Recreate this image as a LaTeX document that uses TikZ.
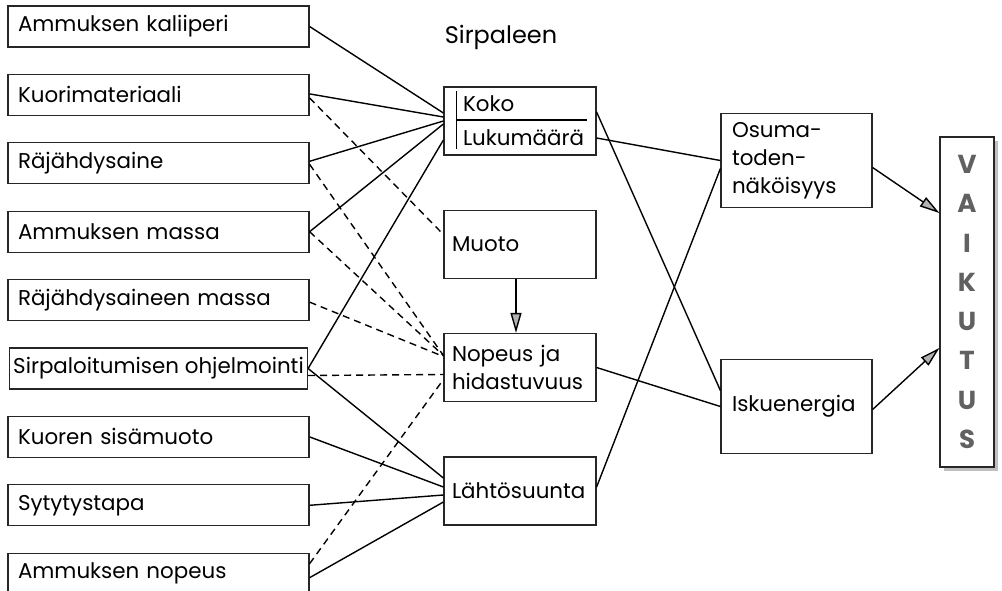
\documentclass[tikz,border=0pt]{standalone}
\usepackage{fontspec}
\setmainfont{Poppins}
\usetikzlibrary{arrows.meta,shadows}

\tikzset{
	box/.style={draw=black!85, line width=1.2pt, align=left, inner ysep=0pt,
		font=\fontsize{21.4}{28}\selectfont},
	leftbox/.style={box, text width=281pt, inner xsep=10pt, minimum height=41pt},
	widebox/.style={box, minimum width=298pt, inner xsep=1pt, minimum height=41pt},
	midbox/.style={box, text width=136pt, inner xsep=8pt, minimum height=68pt},
	rightbox/.style={box, text width=129pt, inner xsep=11pt, minimum height=94pt},
	link/.style={line width=1.4pt},
	dashlink/.style={link, dash pattern=on 7pt off 5pt},
	tip/.style={link, -{Triangle[length=20pt,width=11pt,fill=gray!60]}}
}

\begin{document}
\begin{tikzpicture}[x=1pt,y=-1pt]
	\useasboundingbox (0,0) rectangle (1002,590);
	% tekijat vasemmalla
	\foreach \i/\nm/\txt/\st in {0/kal/Ammuksen kaliiperi/leftbox, 1/kuori/Kuorimateriaali/leftbox,
		2/raj/Räjähdysaine/leftbox, 3/massa/Ammuksen massa/leftbox,
		4/rmassa/Räjähdysaineen massa/leftbox, 5/ohj/Sirpaloitumisen ohjelmointi/widebox,
		6/sisa/Kuoren sisämuoto/leftbox, 7/syt/Sytytystapa/leftbox, 8/nop/Ammuksen nopeus/leftbox}
	{
		\node[\st] (\nm) at (158.5,{26.5+68.4*\i}) {\txt};
	}
	% sirpaleen ominaisuudet
	\node[font=\fontsize{24}{28}\selectfont] (sirp) at (501,37) {Sirpaleen};
	\node[box, text width=114pt, inner xsep=19pt, minimum height=68pt,
		font=\fontsize{21.4}{34}\selectfont] (koko) at (520,121) {Koko\\Lukumäärä};
	\draw[line width=1.2pt] ([xshift=13pt,yshift=-5pt]koko.north west) -- ([xshift=13pt,yshift=7pt]koko.south west);
	\draw[line width=1.2pt] ([xshift=13pt,yshift=1pt]koko.west) -- ([xshift=-10pt,yshift=1pt]koko.east);
	\node[midbox] (muoto) at (520,244.5) {Muoto};
	\node[midbox] (nopeus) at (520,367.5) {Nopeus ja\\hidastuvuus};
	\node[midbox] (lahto) at (520,491) {Lähtösuunta};
	% seuraukset
	\node[rightbox] (osuma) at (796.5,160.5) {Osuma-\\toden-\\näköisyys};
	\node[rightbox] (isku) at (796.5,406.5) {Iskuenergia};
	\node[draw=black!85, line width=1.2pt, fill=white, minimum width=54pt, minimum height=330pt,
		align=center, inner sep=0pt, text=black!62, font=\fontsize{26}{39.3}\selectfont\bfseries,
		drop shadow={shadow xshift=4pt, shadow yshift=-4pt, fill=gray!50, opacity=1}]
		(vaik) at (967,302) {V\\A\\I\\K\\U\\T\\U\\S};

	% yhteydet kokoon ja lukumaaraan
	\draw[link] (kal.east) -- ([yshift=8pt]koko.west);
	\draw[link] ([yshift=1pt]kuori.east) -- ([yshift=4pt]koko.west);
	\draw[link] ([yshift=2pt]raj.east) -- (koko.west);
	\draw[link] (massa.east) -- ([yshift=-3pt]koko.west);
	\draw[link] (ohj.east) -- ([yshift=-19pt]koko.west);
	% yhteydet lahtosuuntaan
	\draw[link] (ohj.east) -- ([yshift=13pt]lahto.west);
	\draw[link] (sisa.east) -- ([yshift=4pt]lahto.west);
	\draw[link] (syt.east) -- ([yshift=-4pt]lahto.west);
	\draw[link] ([yshift=-4pt]nop.east) -- ([yshift=-11pt]lahto.west);
	% katkoviivat muotoon ja nopeuteen
	\draw[dashlink] ([yshift=-3pt]kuori.east) -- ([yshift=10pt]muoto.west);
	\draw[dashlink] ([yshift=-1pt]raj.east) -- ([yshift=12pt]nopeus.west);
	\draw[dashlink] (massa.east) -- ([yshift=12pt]nopeus.west);
	\draw[dashlink] ([yshift=-2pt]rmassa.east) -- ([yshift=11pt]nopeus.west);
	\draw[dashlink] ([yshift=-7pt]ohj.east) -- ([yshift=-7pt]nopeus.west);
	\draw[dashlink] ([yshift=10pt]nop.east) -- ([yshift=-12pt]nopeus.west);
	\draw[tip] ([xshift=-4pt]muoto.south) -- ([xshift=-4pt]nopeus.north);
	% oikea puoli
	\draw[link] ([yshift=9pt]koko.east) -- ([yshift=16pt]isku.west);
	\draw[link] ([yshift=-17pt]koko.east) -- (osuma.west);
	\draw[link] (nopeus.east) -- (isku.west);
	\draw[link] ([yshift=4pt]lahto.east) -- ([yshift=-8pt]osuma.west);
	\draw[tip] ([yshift=-7pt]osuma.east) -- ([yshift=89pt]vaik.west);
	\draw[tip] ([yshift=-3pt]isku.east) -- ([yshift=-46pt]vaik.west);
\end{tikzpicture}
\end{document}
